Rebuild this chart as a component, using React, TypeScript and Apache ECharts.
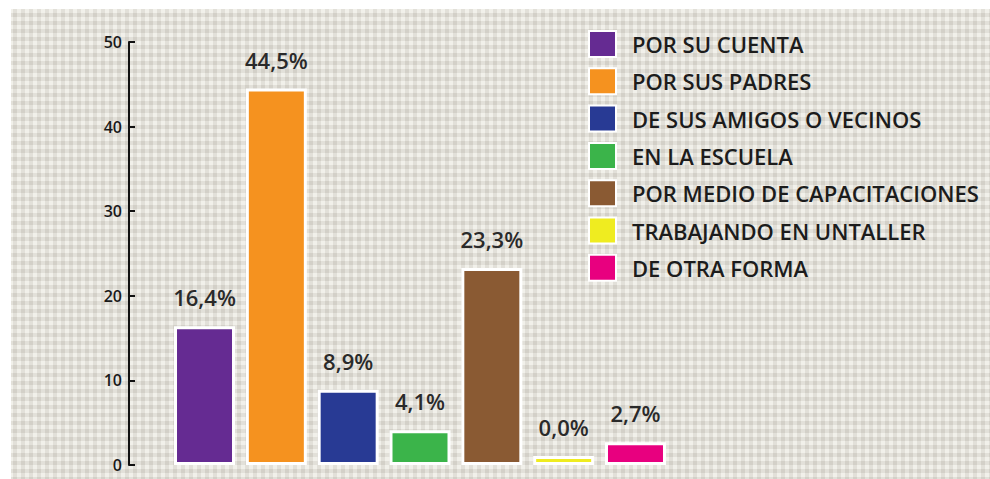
import React, { useEffect, useRef } from "react";
import * as echarts from "echarts";

const categories = [
  "POR SU CUENTA",
  "POR SUS PADRES",
  "DE SUS AMIGOS O VECINOS",
  "EN LA ESCUELA",
  "POR MEDIO DE CAPACITACIONES",
  "TRABAJANDO EN UNTALLER",
  "DE OTRA FORMA",
];
const values = [16.4, 44.5, 8.9, 4.1, 23.3, 0.0, 2.7];
const colors = ["#652b92", "#f5921f", "#283a94", "#3bb44a", "#8a5a33", "#efec20", "#e8007f"];
const yTicks = [0, 10, 20, 30, 40, 50];

function makeTexture(): string {
  const c = document.createElement("canvas");
  c.width = 8;
  c.height = 8;
  const ctx = c.getContext("2d");
  if (!ctx) return "";
  ctx.fillStyle = "#d3d0c8";
  ctx.fillRect(0, 0, 8, 8);
  ctx.fillStyle = "rgba(255,255,250,0.35)";
  ctx.fillRect(0, 1, 8, 4);
  ctx.fillRect(1, 0, 4, 8);
  ctx.fillStyle = "rgba(255,255,250,0.25)";
  ctx.fillRect(1, 1, 4, 4);
  return c.toDataURL();
}

export default function App() {
  const ref = useRef<HTMLDivElement>(null);
  useEffect(() => {
    if (!ref.current) return;
    const chart = echarts.init(ref.current, null, { renderer: "svg" });
    const tex = makeTexture();
    const series = categories.map((name, i) => ({
      name,
      type: "bar",
      stack: "all",
      barWidth: 61,
      barMinHeight: 9,
      itemStyle: { color: colors[i], borderColor: "#ffffff", borderWidth: 3 },
      label: {
        show: true,
        position: "top",
        distance: 18,
        fontFamily: "Open Sans",
        fontSize: 22,
        fontWeight: 600,
        color: "#2a2a2a",
        formatter: (p: any) => Number(p.value).toFixed(1).replace(".", ",") + "%",
      },
      data: values.map((v, j) => (j === i ? v : null)),
    }));
    chart.setOption({
      animation: false,
      backgroundColor: "#ffffff",
      graphic: [
        {
          type: "rect",
          z: -10,
          silent: true,
          shape: { x: 11, y: 9, width: 990, height: 479 },
          style: {
            fill: tex
              ? { image: tex, repeat: "repeat", imageWidth: 8, imageHeight: 8 }
              : "#d9d5cc",
          },
        },
      ],
      legend: {
        orient: "vertical",
        left: 583,
        top: 25,
        itemWidth: 27,
        itemHeight: 26,
        itemGap: 9.3,
        icon: "rect",
        textStyle: {
          fontFamily: "Open Sans",
          fontSize: 22,
          fontWeight: 600,
          color: "#1c1c1c",
          padding: [0, 0, 0, 11],
        },
        data: categories,
      },
      grid: { left: 168.6, top: 42, width: 502.8, height: 423 },
      xAxis: {
        type: "category",
        data: categories,
        axisLine: { show: false },
        axisTick: { show: false },
        axisLabel: { show: false },
      },
      yAxis: {
        type: "value",
        min: yTicks[0],
        max: yTicks[yTicks.length - 1],
        interval: 10,
        offset: 39.6,
        axisLine: { show: true, lineStyle: { color: "#111", width: 2 } },
        axisTick: { show: true, inside: true, length: 6, lineStyle: { color: "#111", width: 2 } },
        axisLabel: {
          fontFamily: "Open Sans",
          fontSize: 16,
          fontWeight: 600,
          color: "#1a1a1a",
          margin: 7,
        },
        splitLine: { show: false },
      },
      series,
    });
    return () => chart.dispose();
  }, []);
  return (
    <div
      ref={ref}
      style={{ position: "fixed", left: 0, top: 0, width: 990, height: 479 }}
    />
  );
}
